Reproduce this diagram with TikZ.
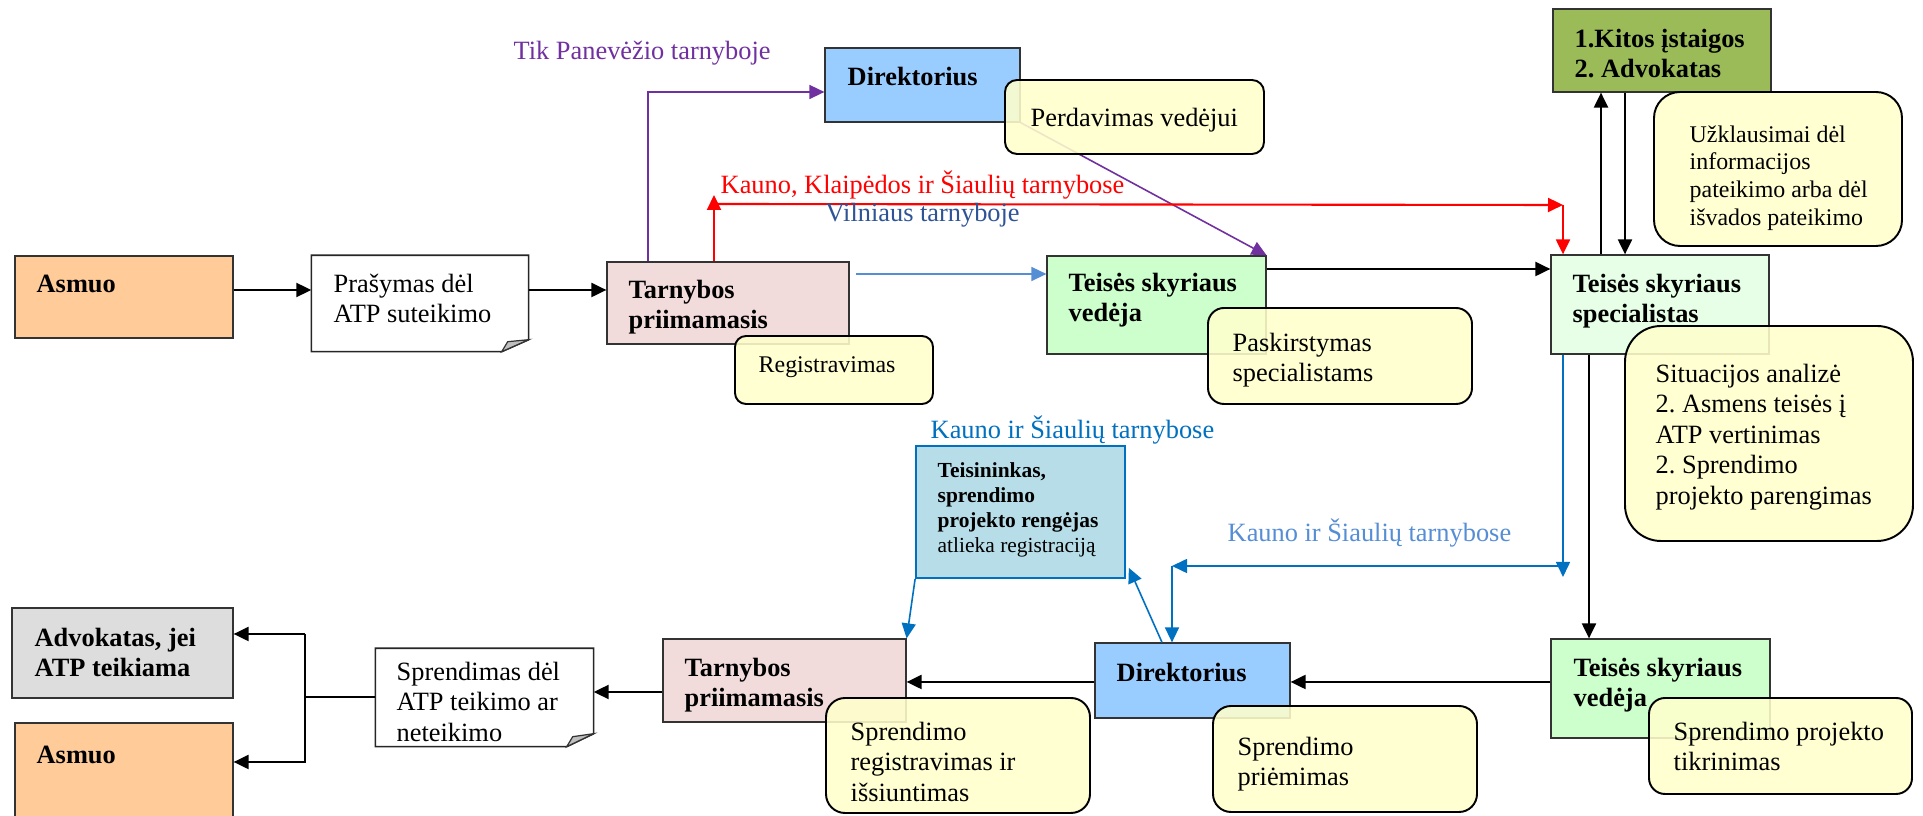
\documentclass[tikz,border=0pt]{standalone}
\usepackage{fontspec}
\setmainfont{Liberation Serif}
\usetikzlibrary{arrows.meta,fit,calc}
\frenchspacing
\definecolor{cOrange}{HTML}{FFCC99}
\definecolor{cPink}{HTML}{F2DCDB}
\definecolor{cDir}{HTML}{99CCFF}
\definecolor{cGreen}{HTML}{CCFFCC}
\definecolor{cSpec}{HTML}{E6FFE6}
\definecolor{cKitos}{HTML}{9BBB59}
\definecolor{cTeis}{HTML}{B7DDE8}
\definecolor{cCall}{HTML}{FFFFCC}
\definecolor{cGray}{HTML}{DDDDDD}
\definecolor{cPurple}{HTML}{7030A0}
\definecolor{cRed}{HTML}{FF0000}
\definecolor{cBlue}{HTML}{0070C0}
\definecolor{cLBlue}{HTML}{558ED5}
\definecolor{cDBlue}{HTML}{2F5496}
\newcommand\fMain{\fontsize{7.5pt}{8.7pt}\selectfont\frenchspacing}
\newcommand\fSmall{\fontsize{6.8pt}{7.9pt}\selectfont\frenchspacing}
\newcommand\fTiny{\fontsize{6.1pt}{7.1pt}\selectfont\frenchspacing}
\tikzset{
  box/.style={draw=black!80, line width=0.35pt, inner sep=0pt},
  callout/.style={draw=black, line width=0.55pt, fill=cCall, fill opacity=0.88, inner sep=0pt},
  tx/.style={anchor=north west, inner sep=0pt, align=left, font=\fMain},
  btx/.style={tx, font=\fMain\bfseries},
  lbl/.style={anchor=west, inner sep=0pt, font=\fMain},
  arr/.style={line width=0.6pt, -{Triangle[length=0.15cm,width=0.14cm]}},
  carr/.style={line width=0.45pt, -{Triangle[length=0.15cm,width=0.14cm]}},
  ln/.style={line width=0.6pt},
  docfold/.style={fill=black!25, draw=black!80, line width=0.35pt},
}
\begin{document}
\begin{tikzpicture}[x=0.01cm,y=-0.01cm]
\useasboundingbox (0,0) rectangle (1923,816);
\clip (0,0) rectangle (1923,816);
\fill[white] (0,0) rectangle (1923,816);

% ---------- top row boxes ----------
\node[box, fill=cOrange, fit={(15,256) (233,338)}] (asmuo1) {};
\node[inner sep=0pt, fit={(312,256) (528,351)}] (prasymas) {};
\draw[fill=white, draw=black!85, line width=0.45pt] (prasymas.north west) -- (prasymas.north east) -- ($(prasymas.south east)+(0,-12)$) -- ($(prasymas.south east)+(-27,0)$) -- (prasymas.south west) -- cycle;
\draw[docfold] ($(prasymas.south east)+(-27,0)$) -- ($(prasymas.south east)+(-21,-10)$) -- ($(prasymas.south east)+(0,-12)$) -- cycle;
\node[box, fill=cPink, fit={(607,262) (849,344)}] (tarn1) {};
\node[box, fill=cDir, fit={(825,48) (1020,122)}] (dir1) {};
\node[box, fill=cGreen, fit={(1047,256) (1266,354)}] (ved1) {};
\node[box, fill=cKitos, fit={(1553,9) (1771,92)}] (kitos) {};
\node[box, fill=cSpec, fit={(1551,255) (1769,354)}] (spec) {};

% ---------- bottom row boxes ----------
\node[box, fill=cGray, fit={(12,608) (233,698)}] (adv) {};
\node[box, fill=cOrange, fit={(15,723) (233,840)}] (asmuo2) {};
\node[inner sep=0pt, fit={(376,649) (593,746)}] (sprend) {};
\draw[fill=white, draw=black!85, line width=0.45pt] (sprend.north west) -- (sprend.north east) -- ($(sprend.south east)+(0,-13)$) -- ($(sprend.south east)+(-27,0)$) -- (sprend.south west) -- cycle;
\draw[docfold] ($(sprend.south east)+(-27,0)$) -- ($(sprend.south east)+(-21,-10)$) -- ($(sprend.south east)+(0,-13)$) -- cycle;
\node[box, fill=cPink, fit={(663,639) (906,722)}] (tarn2) {};
\node[box, draw=cBlue, line width=0.5pt, fill=cTeis, fit={(916,446) (1125,578)}] (teisin) {};
\node[box, fill=cDir, fit={(1095,643) (1290,718)}] (dir2) {};
\node[box, fill=cGreen, fit={(1551,639) (1770,738)}] (ved2) {};

% ---------- connectors ----------
\draw[arr] (asmuo1.east |- 0,290) -- (prasymas.west |- 0,290);
\draw[arr] (prasymas.east |- 0,290) -- (tarn1.west |- 0,290);
\draw[carr, cPurple] (tarn1.north -| 648,0) |- (dir1.west |- 0,92);
\draw[carr, cPurple] (dir1.south east) -- (ved1.north east);
\coordinate (rc1) at (714,204);
\coordinate (rc2) at (1563,205);
\draw[arr, cRed] (tarn1.north -| rc1) -- (714,195);
\draw[arr, cRed] (rc1) -- (rc2);
\draw[arr, cRed] (rc2) -- (spec.north -| rc2);
\coordinate (vb) at (856,274);
\draw[carr, cLBlue] (vb) -- (ved1.west |- vb);
\draw[arr] (ved1.east |- 0,269) -- (spec.west |- 0,269);
\draw[arr] (spec.north -| 1601,0) -- (kitos.south -| 1601,0);
\draw[arr] (kitos.south -| 1625,0) -- (spec.north -| 1625,0);
\coordinate (bl1) at (1563,566);
\coordinate (bl2) at (1172,566);
\draw[carr, cBlue] (spec.south -| bl1) -- (1563,577);
\draw[carr, cBlue] (bl1) -- (bl2);
\draw[carr, cBlue] (bl2) -- (dir2.north -| bl2);
\draw[arr] (spec.south -| 1589,0) -- (ved2.north -| 1589,0);
\draw[arr] (ved2.west |- 0,682) -- (dir2.east |- 0,682);
\draw[arr] (dir2.west |- 0,682) -- (tarn2.east |- 0,682);
\draw[carr, cBlue] (dir2.north -| 1162,0) -- ($(teisin.south east)+(3,-11)$);
\draw[carr, cBlue] (teisin.south west) -- (tarn2.north east);
\draw[arr] (tarn2.west |- 0,692) -- (sprend.east |- 0,692);
\coordinate (sp) at (305,697);
\draw[ln] (sprend.west |- sp) -- (sp);
\draw[ln] (305,634) -- (305,763);
\draw[arr] (305,634) -- (adv.east |- 0,634);
\draw[arr] (305,762) -- (asmuo2.east |- 0,762);

% ---------- callouts ----------
\node[callout, rounded corners=0.11cm, fit={(735,336) (933,404)}] (reg) {};
\node[callout, rounded corners=0.12cm, fit={(1005,80) (1264,154)}] (perd) {};
\node[callout, rounded corners=0.16cm, fit={(1208,308) (1472,404)}] (pask) {};
\node[callout, rounded corners=0.26cm, fit={(1654,92) (1902,246)}] (uzk) {};
\node[callout, rounded corners=0.36cm, fit={(1625,326) (1913,541)}] (sit) {};
\node[callout, rounded corners=0.19cm, fit={(826,698) (1090,813)}] (sreg) {};
\node[callout, rounded corners=0.18cm, fit={(1213,706) (1477,812)}] (prie) {};
\node[callout, rounded corners=0.16cm, fit={(1649,698) (1912,794)}] (tikr) {};

% ---------- texts ----------
\node[btx] (t-asmuo1) at (36,270) {\strut Asmuo};
\node[tx] (t-pras) at (333,270) {\strut Prašymas dėl\\ATP suteikimo};
\node[btx] (t-tarn1) at (628,276) {\strut Tarnybos\\priimamasis};
\node[tx, font=\fSmall] (t-reg) at (758,352) {\strut Registravimas};
\node[btx] (t-dir1) at (847,63) {\strut Direktorius};
\node[tx] (t-perd) at (1030,104) {\strut Perdavimas vedėjui};
\node[btx] (t-ved1) at (1068,269) {\strut Teisės skyriaus\\vedėja};
\node[tx] (t-pask) at (1232,329) {\strut Paskirstymas\\specialistams};
\node[btx] (t-kitos) at (1574,25) {\strut 1.Kitos įstaigos\\2. Advokatas};
\node[tx, font=\fSmall] (t-uzk) at (1689,122) {\strut Užklausimai dėl\\informacijos\\pateikimo arba dėl\\išvados pateikimo};
\node[btx] (t-spec) at (1572,270) {\strut Teisės skyriaus\\specialistas};
\node[tx] (t-sit) at (1655,360) {\strut Situacijos analizė\\2. Asmens teisės į\\ATP vertinimas\\2. Sprendimo\\projekto parengimas};
\node[btx] (t-adv) at (34,624) {\strut Advokatas, jei\\ATP teikiama};
\node[btx] (t-asmuo2) at (36,741) {\strut Asmuo};
\node[tx] (t-sprend) at (396,658) {\strut Sprendimas dėl\\ATP teikimo ar\\neteikimo};
\node[btx] (t-tarn2) at (684,654) {\strut Tarnybos\\priimamasis};
\node[tx] (t-sreg) at (850,718) {\strut Sprendimo\\registravimas ir\\išsiuntimas};
\node[tx, font=\fTiny] (t-teisin) at (937,459) {\strut\textbf{Teisininkas,}\\\textbf{sprendimo}\\\textbf{projekto rengėjas}\\atlieka registraciją};
\node[btx] (t-dir2) at (1116,659) {\strut Direktorius};
\node[tx] (t-prie) at (1237,733) {\strut Sprendimo\\priėmimas};
\node[btx] (t-ved2) at (1573,654) {\strut Teisės skyriaus\\vedėja};
\node[tx] (t-tikr) at (1673,718) {\strut Sprendimo projekto\\tikrinimas};

% ---------- labels ----------
\node[lbl, text=cPurple] (l-pan) at (513,53) {Tik Panevėžio tarnyboje};
\node[lbl, text=cRed] (l-kks) at (720,185) {Kauno, Klaipėdos ir Šiaulių tarnybose};
\node[lbl, text=cDBlue] (l-vil) at (825,215) {Vilniaus tarnyboje};
\node[lbl, text=cBlue] (l-ks1) at (930,430) {Kauno ir Šiaulių tarnybose};
\node[lbl, text=cLBlue] (l-ks2) at (1227,533) {Kauno ir Šiaulių tarnybose};
\end{tikzpicture}
\end{document}
